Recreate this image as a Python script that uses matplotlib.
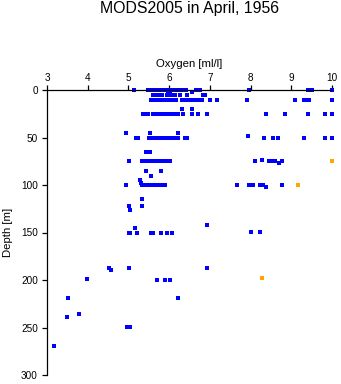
import matplotlib
matplotlib.use("Agg")
import matplotlib.pyplot as plt

plt.rcParams['font.family'] = ['Liberation Sans', 'DejaVu Sans']

title = "MODS2005 in April, 1956"
x_label = "Oxygen [ml/l]"
y_label = "Depth [m]"
x_ticks = [3, 4, 5, 6, 7, 8, 9, 10]
y_ticks = [0, 50, 100, 150, 200, 250, 300]

# blue observations: (depth, list of oxygen values)
d0 = [5.13, 5.48, 5.52, 5.56, 5.60, 5.64, 5.68, 5.72, 5.76, 5.80, 5.84, 5.88, 5.92, 5.96,
      6.00, 6.04, 6.08, 6.14, 6.18, 6.22, 6.27, 6.31, 6.38, 6.42, 6.65, 6.70, 6.75, 7.95,
      9.40, 9.52, 10.0]
d2 = [5.98, 6.02, 6.55]
d4 = [5.97, 6.03]
d5 = [5.61, 5.65, 5.69, 5.76, 5.82, 5.94, 5.98, 6.02, 6.06, 6.14, 6.27, 6.43, 6.84, 6.88]
d10 = [5.55, 5.59, 5.63, 5.67, 5.71, 5.75, 5.79, 5.83, 5.87, 5.91, 5.95, 5.99, 6.03, 6.07,
       6.11, 6.15, 6.18, 6.31, 6.35, 6.40, 6.47, 6.55, 6.60, 6.65, 6.70, 6.76, 6.80, 7.0,
       7.18, 7.91, 9.08, 9.31, 9.37, 9.44, 10.0]
d20 = [6.31, 6.55]
d25 = [5.35, 5.40, 5.48, 5.61, 5.65, 5.69, 5.73, 5.77, 5.81, 5.85, 5.89, 5.93, 5.97, 6.01,
       6.05, 6.10, 6.14, 6.18, 6.22, 6.35, 6.55, 6.72, 6.93, 8.37, 8.84, 9.41, 9.82, 10.0]
d45 = [4.95, 5.54, 6.22]
d48 = [7.94]
d50 = [5.18, 5.23, 5.51, 5.55, 5.59, 5.63, 5.67, 5.71, 5.75, 5.79, 5.83, 5.87, 5.91, 5.95,
       5.99, 6.03, 6.07, 6.11, 6.15, 6.19, 6.22, 6.39, 6.45, 8.33, 8.55, 8.68, 9.31, 9.82, 10.0]
d65 = [5.43, 5.47, 5.52]
d73 = [8.28]
d75 = [5.01, 5.34, 5.38, 5.42, 5.46, 5.50, 5.54, 5.58, 5.62, 5.66, 5.70, 5.74, 5.78, 5.82,
       5.92, 5.95, 6.02, 8.10, 8.45, 8.50, 8.55, 8.60, 8.78]
d77 = [8.69]
d85 = [5.44, 5.80]
d90 = [5.55]
d95 = [5.28]
d98 = [5.31]
d100 = [4.95, 5.33, 5.37, 5.41, 5.45, 5.49, 5.53, 5.57, 5.61, 5.65, 5.69, 5.73, 5.77, 5.81,
        5.85, 5.89, 7.67, 7.95, 8.06, 8.24, 8.30, 8.77]
d102 = [8.37]
d115 = [5.34]
d122 = [5.01, 5.34]
d126 = [5.05]
d142 = [6.92]
d145 = [5.17]
d149 = [8.0, 8.22]
d150 = [5.01, 5.05, 5.21, 5.56, 5.61, 5.81, 5.95, 6.08]
d187 = [4.52, 5.01, 6.92]
d189 = [4.57]
d199 = [3.98]
d200 = [5.69, 5.90, 6.02]
d219 = [3.51, 6.21]
d236 = [3.78]
d239 = [3.49]
d249 = [4.97, 5.03]
d269 = [3.18]

blue_rows = {0: d0, 2: d2, 4: d4, 5.5: d5, 10.5: d10, 20: d20, 25: d25, 45: d45, 48: d48,
             50: d50, 65: d65, 73.5: d73, 75: d75, 77: d77, 85: d85, 90: d90, 95: d95,
             98: d98, 100: d100, 102: d102, 115: d115, 122: d122, 126: d126, 142: d142,
             145: d145, 149: d149, 150: d150, 187: d187, 189: d189, 199: d199, 200: d200,
             219: d219, 236: d236, 239: d239, 249: d249, 269: d269}

orange_oxygen = [10.0, 9.16, 8.27]
orange_depth = [75, 100, 198]

blue_x, blue_y = [], []
for dep, vals in blue_rows.items():
    for v in vals:
        blue_x.append(v)
        blue_y.append(dep)

fig = plt.figure(figsize=(3.41, 3.84), dpi=100)
ax = fig.add_axes([47/341, 1 - 375/384, 285/341, 285/384])

ax.plot(blue_x, blue_y, linestyle='none', marker='s', markersize=2.3,
        markeredgewidth=0, color='#0000ff', clip_on=False)
ax.plot(orange_oxygen, orange_depth, linestyle='none', marker='s', markersize=2.3,
        markeredgewidth=0, color='#ffa500', clip_on=False)

ax.set_xlim(3, 10)
ax.set_ylim(300, 0)
ax.set_xticks(x_ticks)
ax.set_yticks(y_ticks)
ax.xaxis.tick_top()
ax.xaxis.set_label_position('top')
ax.spines['right'].set_visible(False)
ax.spines['bottom'].set_visible(False)
for s in ('left', 'top'):
    ax.spines[s].set_linewidth(0.9)
ax.tick_params(axis='x', which='both', top=True, bottom=False, length=3.6, width=0.9,
               pad=1.5, labelsize=7.2)
ax.tick_params(axis='y', length=3.6, width=0.9, pad=3.0, labelsize=7.2)
ax.set_xlabel(x_label, fontsize=8.2, labelpad=4)
ax.set_ylabel(y_label, fontsize=8.2, labelpad=6)
fig.text((47 + 332) / 2 / 341, 1 - 8.5 / 384, title, ha='center', va='center', fontsize=11.4)

fig.savefig('out.png', dpi=100)
